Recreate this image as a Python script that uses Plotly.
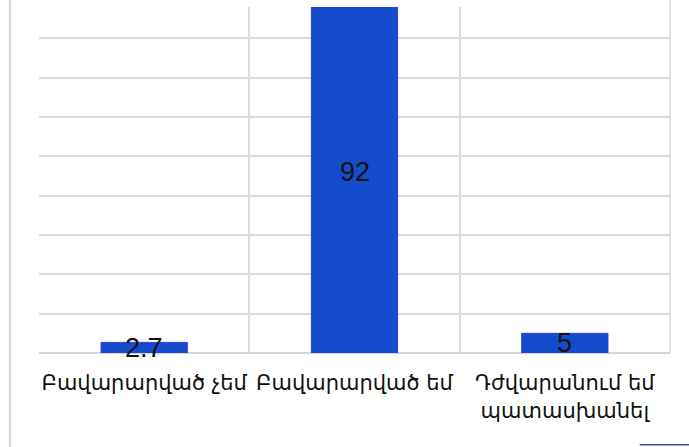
import plotly.graph_objects as go

categories = ["Բավարարված չեմ", "Բավարարված եմ", "Դժվարանում եմ<br>պատասխանել"]
values = [2.7, 92, 5]
value_labels = ["2.7", "92", "5"]

x_pos = list(range(len(categories)))
boundaries = [i - 0.5 for i in range(len(categories) + 1)]

fig = go.Figure()
fig.add_trace(go.Bar(
    x=x_pos, y=values, width=0.41,
    marker=dict(color="#144ccc", line=dict(color="#2f3fd8", width=1)),
    textposition="none", hoverinfo="skip",
))

for xi, v, t in zip(x_pos, values, value_labels):
    fig.add_annotation(x=xi, y=v / 2, text=t, showarrow=False,
                       xref="x", yref="y", yanchor="middle",
                       font=dict(family="Liberation Sans, Arial", size=27, color="#111111"))

fig.update_layout(
    width=689, height=447,
    margin=dict(l=39, r=19, t=7, b=94),
    paper_bgcolor="white", plot_bgcolor="white",
    showlegend=False,
    xaxis=dict(
        range=[-0.5, len(categories) - 0.5],
        tickvals=x_pos, ticktext=categories,
        tickfont=dict(family="DejaVu Sans", size=21, color="#111111"),
        showgrid=False, zeroline=False, showline=False,
        ticks="outside", ticklen=11, tickcolor="rgba(0,0,0,0)",
        minor=dict(tickvals=boundaries, showgrid=True, gridcolor="#dcdcdc", gridwidth=1.5),
        fixedrange=True,
    ),
    yaxis=dict(
        range=[0, 88], dtick=10,
        showticklabels=False, showgrid=True, gridcolor="#dcdcdc", gridwidth=1.5,
        zeroline=True, zerolinecolor="#d4d4d4", zerolinewidth=1.5,
        showline=False, fixedrange=True,
    ),
)

# frame remnants of the cropped original
fig.add_shape(type="line", xref="paper", yref="paper", x0=1, x1=1, y0=0, y1=1.03,
              line=dict(color="#dcdcdc", width=1.5))
fig.add_shape(type="line", xref="paper", yref="paper", x0=-0.046, x1=-0.046, y0=-0.3, y1=1.03,
              line=dict(color="#d9d9d9", width=2.5))
fig.add_shape(type="line", xref="paper", yref="paper", x0=0.952, x1=1.04, y0=-0.265, y1=-0.265,
              line=dict(color="#2c5aa0", width=1.5))

fig.write_html("out.html")
